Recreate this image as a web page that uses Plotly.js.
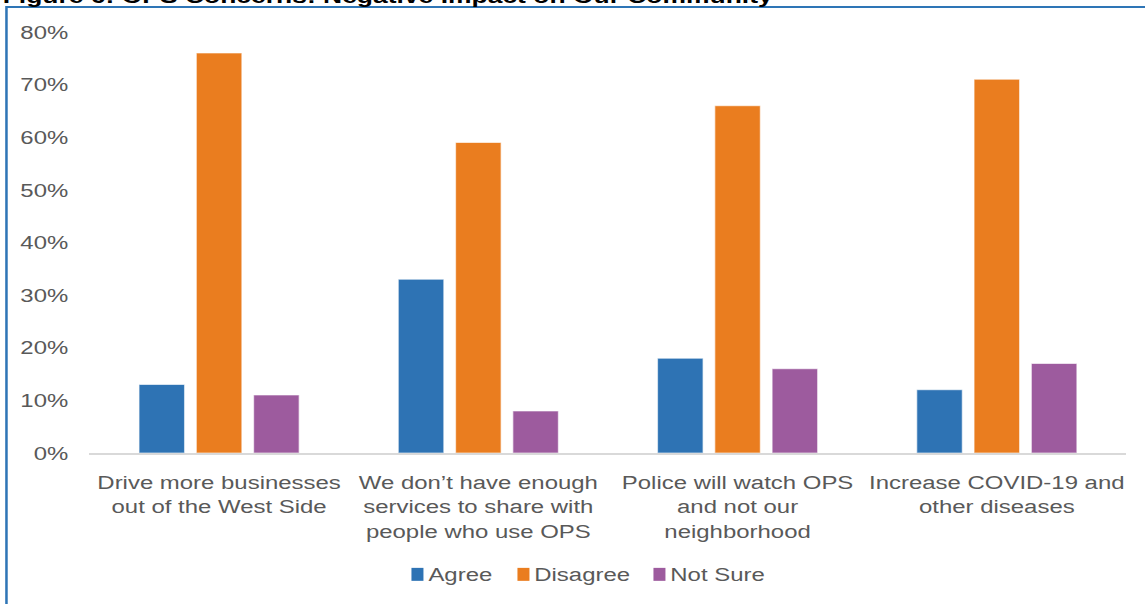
<!DOCTYPE html>
<html>
<head>
<meta charset="utf-8">
<script src="https://cdn.plot.ly/plotly-3.0.1.min.js"></script>
<style>
html,body{margin:0;padding:0;background:#fff;overflow:hidden;}
#chart{width:909px;height:604px;transform:scaleX(1.26);transform-origin:0 0;}
</style>
</head>
<body>
<div id="chart"></div>
<script>
const categories = [
  "Drive more businesses<br>out of the West Side",
  "We don’t have enough<br>services to share with<br>people who use OPS",
  "Police will watch OPS<br>and not our<br>neighborhood",
  "Increase COVID-19 and<br>other diseases"
];
const agree = [13, 33, 18, 12];
const disagree = [76, 59, 66, 71];
const notSure = [11, 8, 16, 17];
const seriesNames = ["Agree", "Disagree", "Not Sure"];
const yTicks = [0, 10, 20, 30, 40, 50, 60, 70, 80];
const titleText = "Figure 6: OPS Concerns: Negative Impact on Our Community";

const colors = ["#2e73b4", "#ea7d1f", "#9d5b9e"];
const font = "Liberation Sans, Arial, sans-serif";

const traces = [agree, disagree, notSure].map((vals, i) => ({
  type: "bar",
  name: seriesNames[i],
  x: categories,
  y: vals,
  marker: {color: colors[i], line: {color: "rgba(255,255,255,0.6)", width: 1}},
  hoverinfo: "none",
  showlegend: false
}));

const S = 1.26;               // horizontal stretch of the page
const W = 909, H = 604;
const L = 90 / S, R = W - 1127 / S, T = 32, B = 150.5;
const pw = W - L - R, ph = H - T - B;
const px2x = p => (p / S - L) / pw;      // page pixel -> paper x
const py2y = p => (H - B - p) / ph;      // page pixel -> paper y

// legend layout (page pixels)
const legendKeyLeft = [412, 518, 654];
const legendKeySize = 12;
const legendTextGap = 4;
const legendY = 575;

const shapes = [{
  type: "rect", xref: "paper", yref: "paper",
  x0: px2x(7), x1: px2x(1180), y0: py2y(700), y1: py2y(7),
  line: {color: "#2e75b6", width: 2}, fillcolor: "rgba(0,0,0,0)", layer: "below"
}];
const annotations = [{
  text: "<b>" + titleText + "</b>",
  xref: "paper", yref: "paper",
  x: px2x(0), xanchor: "left",
  y: py2y(-5), yanchor: "middle",
  showarrow: false,
  font: {family: font, size: 21, color: "#000"}
}];
seriesNames.forEach((name, i) => {
  const x0 = legendKeyLeft[i];
  shapes.push({
    type: "rect", xref: "paper", yref: "paper",
    x0: px2x(x0), x1: px2x(x0 + legendKeySize),
    y0: py2y(legendY + 6.5), y1: py2y(legendY - 6.5),
    line: {width: 0}, fillcolor: colors[i]
  });
  annotations.push({
    text: name, xref: "paper", yref: "paper",
    x: px2x(x0 + legendKeySize + legendTextGap), xanchor: "left",
    y: py2y(legendY), yanchor: "middle",
    showarrow: false, borderpad: 0,
    font: {family: font, size: 19, color: "#595959"}
  });
});

const layout = {
  width: W, height: H,
  margin: {l: L, r: R, t: T, b: B, pad: 0},
  paper_bgcolor: "#fff",
  plot_bgcolor: "#fff",
  barmode: "group",
  bargap: 0.337,
  bargroupgap: 0.204,
  showlegend: false,
  xaxis: {
    type: "category",
    showgrid: false, zeroline: false,
    showline: true, linecolor: "#d9d9d9", linewidth: 2,
    ticks: "outside", ticklen: 11, tickcolor: "rgba(0,0,0,0)",
    tickfont: {family: font, size: 19, color: "#595959"},
    fixedrange: true
  },
  yaxis: {
    range: [0, 80],
    tickvals: yTicks,
    ticktext: yTicks.map(v => v + "%"),
    showgrid: false, zeroline: false, showline: false,
    ticks: "outside", ticklen: 12, tickcolor: "rgba(0,0,0,0)",
    tickfont: {family: font, size: 19, color: "#595959"},
    fixedrange: true
  },
  shapes: shapes,
  annotations: annotations
};

Plotly.newPlot("chart", traces, layout, {displayModeBar: false, staticPlot: true});
</script>
</body>
</html>
